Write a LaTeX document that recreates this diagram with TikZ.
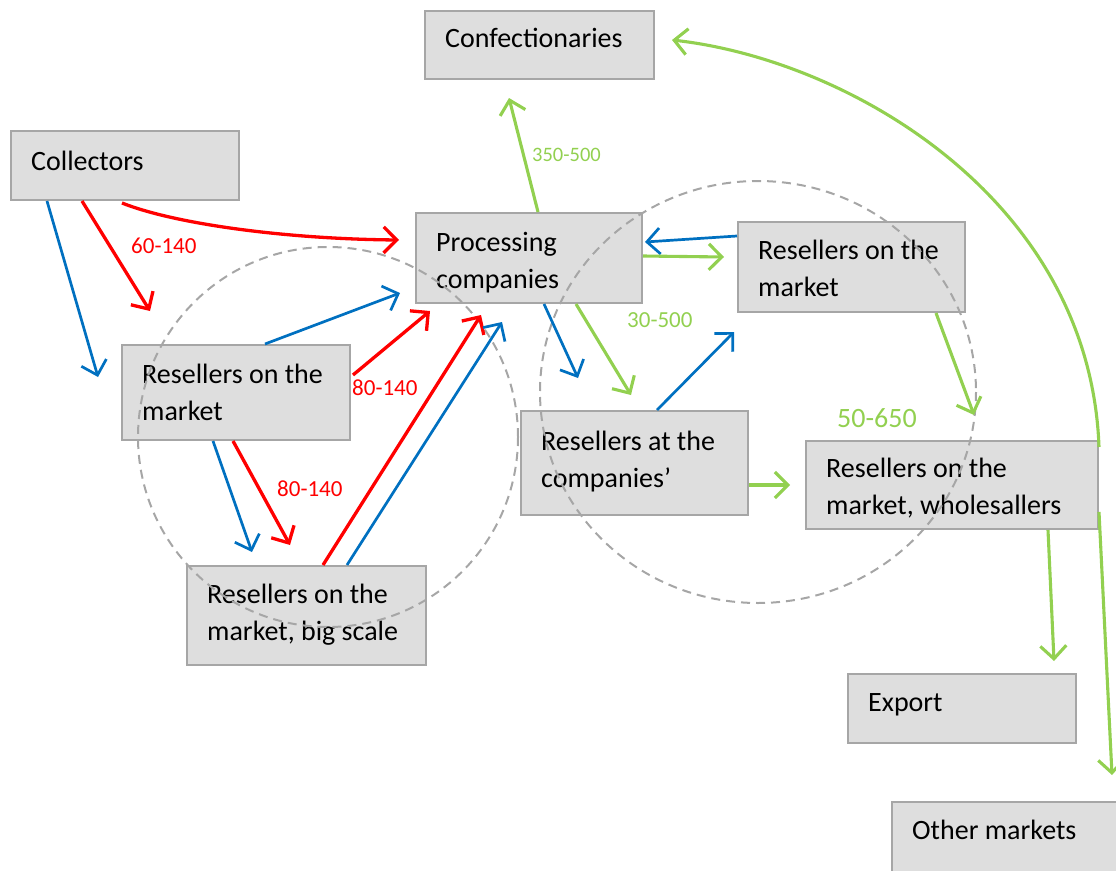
\documentclass[tikz,border=0pt]{standalone}
\usepackage{fontspec}
\setmainfont{Carlito}
\usetikzlibrary{arrows.meta,calc}
\definecolor{boxfill}{HTML}{DEDEDE}
\definecolor{boxline}{HTML}{A6A6A6}
\definecolor{ringgray}{HTML}{A6A6A6}
\definecolor{flowred}{HTML}{FF0000}
\definecolor{flowblue}{HTML}{0070C0}
\definecolor{flowgreen}{HTML}{92D050}
\tikzset{
  stagebox/.style={draw=boxline, fill=boxfill, line width=2pt, inner sep=0pt, anchor=north west},
  stagetext/.style={inner sep=0pt, anchor=west, align=left, font=\fontsize{28}{37}\selectfont},
  ring/.style={draw=ringgray, line width=2pt, dash pattern=on 9pt off 6pt},
  tipv/.style={-{Straight Barb[length=13pt,width=26pt]}},
  redflow/.style={tipv, draw=flowred, line width=3.3pt},
  blueflow/.style={tipv, draw=flowblue, line width=2.7pt},
  greenflow/.style={tipv, draw=flowgreen, line width=3.1pt},
  qty/.style={inner sep=0pt, anchor=west},
}
\begin{document}
\begin{tikzpicture}[x=1pt,y=-1pt]
\clip (0,0) rectangle (1116,870);

% stage boxes
\node[stagebox, minimum width=229pt, minimum height=68pt] (conf) at (424,10) {};
\node[stagebox, minimum width=228pt, minimum height=69pt] (coll) at (10,130) {};
\node[stagebox, minimum width=226pt, minimum height=90pt] (proc) at (415,212) {};
\node[stagebox, minimum width=227pt, minimum height=90pt] (rmr) at (737,221) {};
\node[stagebox, minimum width=228pt, minimum height=95pt] (rml) at (121,344) {};
\node[stagebox, minimum width=227pt, minimum height=104pt] (rco) at (520,410) {};
\node[stagebox, minimum width=292pt, minimum height=88pt] (whs) at (805,440) {};
\node[stagebox, minimum width=239pt, minimum height=99pt] (big) at (186,565) {};
\node[stagebox, minimum width=228pt, minimum height=69pt] (exp) at (847,673) {};
\node[stagebox, minimum width=229pt, minimum height=72pt] (oth) at (891,801) {};

% box captions
\node[stagetext] (conf-t) at ([xshift=21pt,yshift=7pt]conf.west) {Confectionaries};
\node[stagetext] (coll-t) at ([xshift=21pt,yshift=5pt]coll.west) {Collectors};
\node[stagetext] (proc-t) at ([xshift=21pt,yshift=-5pt]proc.west) {Processing\\companies};
\node[stagetext] (rmr-t) at ([xshift=21pt,yshift=-1pt]rmr.west) {Resellers on the\\market};
\node[stagetext] (rml-t) at ([xshift=21pt]rml.west) {Resellers on the\\market};
\node[stagetext] (rco-t) at ([xshift=21pt,yshift=1pt]rco.west) {Resellers at the\\companies’};
\node[stagetext] (whs-t) at ([xshift=21pt,yshift=-3pt]whs.west) {Resellers on the\\market, wholesallers};
\node[stagetext] (big-t) at ([xshift=21pt,yshift=1pt]big.west) {Resellers on the\\market, big scale};
\node[stagetext] (exp-t) at ([xshift=21pt,yshift=4pt]exp.west) {Export};
\node[stagetext] (oth-t) at ([xshift=21pt,yshift=8pt]oth.west) {Other markets};

% dashed grouping rings
\draw[ring] (328,437) circle [radius=190];
\draw[ring] (758,392) ellipse [x radius=218, y radius=211];

% free arrow ends
\coordinate (e-r1) at (399,240);
\coordinate (e-r2) at (150,311);
\coordinate (e-b1) at (98,377);
\coordinate (e-r3) at (430,311);
\coordinate (e-b2) at (400,293);
\coordinate (e-b3) at (252,552);
\coordinate (e-r4) at (290,545);
\coordinate (e-r5) at (481,315);
\coordinate (e-b4) at (502,322);
\coordinate (e-g1) at (509,98);
\coordinate (e-b5) at (645,242);
\coordinate (e-g2) at (724,257);
\coordinate (e-b6) at (578,378);
\coordinate (e-g3) at (631,395);
\coordinate (e-b7) at (734,332);
\coordinate (e-g4) at (974,415);
\coordinate (e-g5) at (790,485);
\coordinate (e-g6) at (1054,661);
\coordinate (e-g7) at (672,40);
\coordinate (e-g8) at (1112,775);

% red flows
\draw[redflow] ([xshift=112pt,yshift=-2pt]coll.south west) .. controls (175,224) and (285,239) .. (e-r1);
\draw[redflow] ([xshift=72pt]coll.south west) -- (e-r2);
\draw[redflow] ([xshift=2pt,yshift=-31pt]rml.north east) -- (e-r3);
\draw[redflow] ([xshift=112pt]rml.south west) -- (e-r4);
\draw[redflow] ([xshift=137pt]big.north west) -- (e-r5);

% blue flows
\draw[blueflow] ([xshift=37pt]coll.south west) -- (e-b1);
\draw[blueflow] ([xshift=144pt]rml.north west) -- (e-b2);
\draw[blueflow] ([xshift=92pt]rml.south west) -- (e-b3);
\draw[blueflow] ([xshift=161pt]big.north west) -- (e-b4);
\draw[blueflow] ([yshift=-15pt]rmr.north west) -- (e-b5);
\draw[blueflow] ([xshift=129pt]proc.south west) -- (e-b6);
\draw[blueflow] ([xshift=137pt]rco.north west) -- (e-b7);

% green flows
\draw[greenflow] ([xshift=123pt]proc.north west) -- (e-g1);
\draw[greenflow] ([yshift=-44pt]proc.north east) -- (e-g2);
\draw[greenflow] ([xshift=161pt]proc.south west) -- (e-g3);
\draw[greenflow] ([xshift=199pt]rmr.south west) -- (e-g4);
\draw[greenflow] ([yshift=-75pt]rco.north east) -- (e-g5);
\draw[greenflow] ([xshift=243pt]whs.south west) -- (e-g6);
\draw[greenflow] ([yshift=-7pt]whs.north east) .. controls (1090,200) and (850,60) .. (e-g7);
\draw[greenflow] ([yshift=-72pt]whs.north east) -- (e-g8);

% quantities
\node[qty, text=flowred, font=\fontsize{23}{26}\selectfont] (q1) at (131,246) {60-140};
\node[qty, text=flowred, font=\fontsize{23}{26}\selectfont] (q2) at (352,388) {80-140};
\node[qty, text=flowred, font=\fontsize{23}{26}\selectfont] (q3) at (277,489) {80-140};
\node[qty, text=flowgreen, font=\fontsize{20.5}{24}\selectfont] (q4) at (532,155) {350-500};
\node[qty, text=flowgreen, font=\fontsize{23}{26}\selectfont] (q5) at (627,320) {30-500};
\node[qty, text=flowgreen, font=\fontsize{28}{32}\selectfont] (q6) at (837,418) {50-650};
\end{tikzpicture}
\end{document}
